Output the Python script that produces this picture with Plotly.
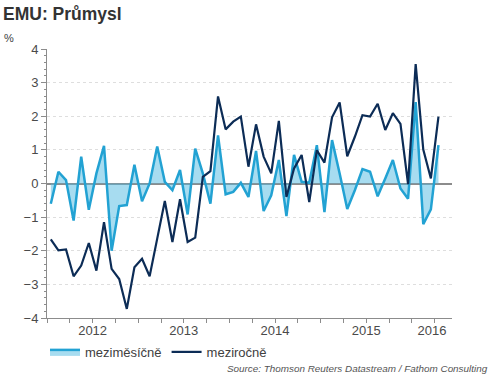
import plotly.graph_objects as go

# monthly data Jan 2012 - Apr 2016
months = list(range(52))
mom = [-0.60, 0.35, 0.10, -1.10, 0.80, -0.78, 0.30, 1.12, -2.00, -0.67, -0.64, 0.56,
       -0.53, 0.00, 1.10, 0.05, -0.20, 0.40, -0.92, 1.04, 0.30, -0.60, 1.43, -0.32,
       -0.25, 0.02, -0.40, 0.97, -0.82, -0.35, 0.70, -0.97, 0.85, 0.05, 0.02, 1.14,
       -0.85, 1.29, 0.30, -0.76, -0.20, 0.43, 0.35, -0.38, 0.15, 0.70, -0.15, -0.45,
       2.42, -1.21, -0.77, 1.14]
yoy = [-1.66, -1.99, -1.96, -2.76, -2.44, -1.77, -2.59, -1.15, -2.54, -2.84, -3.73, -2.49,
       -2.24, -2.76, -1.64, -0.52, -1.74, -0.47, -1.74, -1.61, 0.20, 0.37, 2.59, 1.61,
       1.84, 1.99, 0.50, 1.76, 0.80, 0.30, 1.86, -0.40, 0.45, 0.85, -0.55, 0.99,
       0.62, 1.97, 2.41, 0.81, 1.39, 2.03, 1.99, 2.37, 1.59, 2.09, 1.77, -0.02,
       3.55, 1.01, 0.15, 1.99]
year_labels = ["2012", "2013", "2014", "2015", "2016"]
year_label_pos = [5.5, 17.5, 29.5, 41.5, 50.15]
y_ticks = [-4, -3, -2, -1, 0, 1, 2, 3, 4]

LIGHT = "#22a2d3"
NAVY = "#0c2c56"
FONT = "Liberation Sans, Arial, sans-serif"

fig = go.Figure()
fig.add_trace(go.Scatter(
    x=months, y=mom, name="meziměsíčně", mode="lines",
    line=dict(color=LIGHT, width=2.5), fill="tozeroy",
    fillcolor="rgba(80,185,226,0.5)"))
fig.add_trace(go.Scatter(
    x=months, y=yoy, name="meziročně", mode="lines",
    line=dict(color=NAVY, width=2.2)))

fig.update_layout(
    width=500, height=376,
    margin=dict(l=47, r=48, t=49, b=58, autoexpand=False),
    paper_bgcolor="white", plot_bgcolor="white",
    font=dict(family=FONT, color="#4a4a4a", size=13),
    title=dict(text="<b>EMU: Průmysl</b>", x=0.006, xanchor="left",
               xref="container", y=0.963, yref="container", yanchor="middle",
               font=dict(size=17.5, color="#333333", family=FONT)),
    showlegend=True,
    legend=dict(orientation="h", xref="container", x=0.09, xanchor="left",
                yref="container", y=0.064, yanchor="middle",
                font=dict(size=13, color="#404040"), itemwidth=30,
                bgcolor="rgba(0,0,0,0)"),
    xaxis=dict(range=[-0.5, 52.78], tickmode="array", tickvals=year_label_pos,
               ticktext=year_labels, ticks="", showgrid=False, zeroline=False,
               showline=True, linecolor="#8c8c8c", linewidth=1,
               tickfont=dict(size=13, color="#4a4a4a"),
               minor=dict(tickmode="linear", tick0=-0.5, dtick=3, ticks="outside",
                          ticklen=4, tickcolor="#8c8c8c", showgrid=False)),
    yaxis=dict(range=[-4, 4], tickmode="array", tickvals=y_ticks,
               ticks="outside", ticklen=5, tickcolor="#8c8c8c",
               showline=True, linecolor="#8c8c8c", linewidth=1,
               showgrid=True, gridcolor="#dedede", griddash="dot", gridwidth=1,
               zeroline=True, zerolinecolor="#8c8c8c", zerolinewidth=1.5,
               tickfont=dict(size=13, color="#4a4a4a"),
               minor=dict(tickmode="linear", tick0=0, dtick=0.2, ticks="outside",
                          ticklen=2.5, tickcolor="#8c8c8c", showgrid=False)),
    annotations=[
        dict(text="%", xref="paper", yref="paper", x=-0.11, y=1.04,
             xanchor="left", yanchor="middle", showarrow=False,
             font=dict(size=11, color="#404040")),
        dict(text="<i>Source: Thomson Reuters Datastream / Fathom Consulting</i>",
             xref="paper", yref="paper", x=1.094, y=-0.186, xanchor="right",
             yanchor="middle", showarrow=False,
             font=dict(size=9.9, color="#555555")),
    ],
)

fig.write_html("out.html", config={"displayModeBar": False},
               post_script="document.body.style.margin='0';")
